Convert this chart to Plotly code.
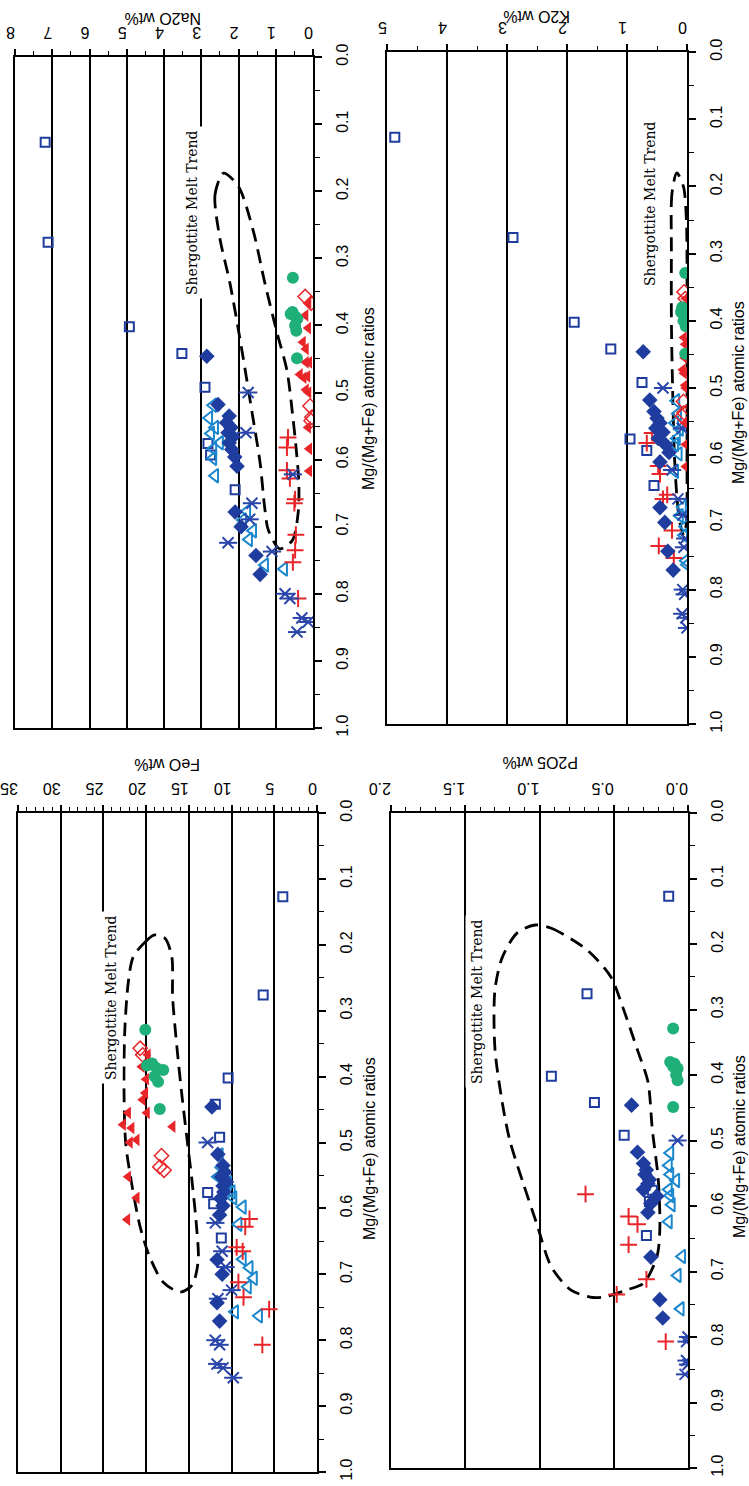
import plotly.graph_objects as go

W, H = 749, 1486

# ---------------- data (Mg/(Mg+Fe) atomic ratio, oxide wt%) ----------------
# open squares (dark blue)
mg_sq = [0.127, 0.276, 0.402, 0.442, 0.492, 0.576, 0.593, 0.645]
feo_sq = [4.0, 6.3, 10.4, 11.9, 11.4, 12.8, 12.1, 11.2]
na2o_sq = [7.19, 7.11, 4.93, 3.52, 2.90, 2.82, 2.75, 2.09]
k2o_sq = [4.87, 2.90, 1.88, 1.27, 0.75, 0.95, 0.67, 0.55]
p2o5_sq = [0.13, 0.68, 0.92, 0.63, 0.43, 0.24, 0.26, 0.28]

# filled diamonds (dark blue)
mg_di = [0.446, 0.518, 0.535, 0.545, 0.552, 0.560, 0.566, 0.575, 0.585, 0.596, 0.610, 0.678, 0.700, 0.743, 0.771]
feo_di = [12.3, 11.6, 11.0, 10.8, 11.2, 10.6, 11.0, 10.9, 11.3, 11.0, 11.4, 11.7, 11.1, 11.7, 11.4]
na2o_di = [2.85, 2.55, 2.25, 2.32, 2.20, 2.28, 2.15, 2.25, 2.18, 2.10, 2.04, 2.09, 1.93, 1.53, 1.42]
k2o_di = [0.73, 0.62, 0.55, 0.50, 0.45, 0.52, 0.40, 0.48, 0.35, 0.30, 0.45, 0.45, 0.37, 0.32, 0.23]
p2o5_di = [0.38, 0.34, 0.30, 0.28, 0.29, 0.26, 0.27, 0.30, 0.21, 0.25, 0.27, 0.25, None, 0.19, 0.17]

# open triangles (light blue)
mg_tri = [0.519, 0.538, 0.552, 0.561, 0.575, 0.584, 0.598, 0.624, 0.677, 0.690, 0.706, 0.719, 0.757, 0.763]
feo_tri = [11.4, 11.2, 11.6, 10.4, 10.0, 9.8, 8.7, 9.2, 8.7, 7.9, 7.4, 8.1, 9.6, 6.8]
na2o_tri = [2.68, 2.79, 2.63, 2.74, 2.50, 2.68, 2.68, 2.63, 1.77, 1.88, 1.61, 1.72, 1.29, 0.78]
k2o_tri = [0.18, 0.15, 0.20, 0.12, 0.17, 0.20, 0.14, 0.20, 0.07, 0.12, 0.03, 0.05, 0.02, 0.00]
p2o5_tri = [0.12, 0.13, 0.12, 0.08, 0.13, 0.12, 0.11, 0.13, 0.04, None, 0.07, None, 0.05, None]

# asterisks (dark blue)
mg_ast = [0.500, 0.560, 0.622, 0.665, 0.689, 0.724, 0.737, 0.800, 0.807, 0.836, 0.842, 0.857]
feo_ast = [12.8, None, 11.9, 11.1, 10.7, 10.0, 11.6, 11.9, 11.4, 11.7, 11.0, 9.8]
na2o_ast = [1.74, 1.80, 0.54, 1.64, 1.70, 2.28, 1.10, 0.75, 0.62, 0.30, 0.13, 0.43]
k2o_ast = [0.40, 0.08, 0.25, 0.15, 0.07, 0.03, 0.05, 0.07, 0.04, 0.08, 0.02, 0.00]
p2o5_ast = [0.07, None, None, None, None, None, None, 0.00, 0.01, 0.01, 0.00, 0.02]

# plus signs (red)
mg_plus = [0.567, 0.582, 0.616, 0.628, 0.659, 0.665, 0.712, 0.735, 0.753, 0.807]
feo_plus = [None, None, 7.9, 8.4, 9.4, 8.7, 9.2, 8.6, 5.6, 6.4]
na2o_plus = [0.67, 0.70, 0.70, 0.62, 0.48, 0.50, 0.46, 0.48, 0.54, 0.40]
k2o_plus = [0.58, 0.67, 0.48, 0.45, 0.33, 0.40, 0.25, 0.47, 0.22, None]
p2o5_plus = [None, 0.69, 0.40, 0.34, 0.40, None, 0.28, 0.48, None, 0.15]

# filled triangles (red)
mg_rtri = [0.367, 0.385, 0.404, 0.425, 0.435, 0.455, 0.455, 0.473, 0.476, 0.478, 0.496, 0.500, 0.552, 0.584, 0.617]
feo_rtri = [19.8, 20.5, 20.0, 20.1, 20.4, 22.1, 19.9, 22.7, 16.9, 21.7, 21.1, 21.9, 22.1, 21.1, 22.2]
na2o_rtri = [0.12, 0.20, 0.13, 0.27, 0.19, 0.19, 0.10, 0.35, 0.15, 0.25, 0.19, 0.12, 0.13, 0.10, 0.10]
k2o_rtri = [0.02, 0.03, 0.02, 0.05, 0.03, 0.04, 0.02, 0.07, 0.02, 0.05, 0.03, 0.02, 0.03, 0.02, 0.02]
p2o5_rtri = [None] * 15

# open diamonds (red)
mg_rdi = [0.357, 0.367, 0.520, 0.537, 0.542]
feo_rdi = [20.7, 20.4, 18.2, 18.4, 17.9]
na2o_rdi = [0.21, 0.05, 0.08, 0.03, 0.05]
k2o_rdi = [0.05, 0.03, 0.06, 0.05, 0.08]
p2o5_rdi = [None] * 5

# filled circles (green)
mg_gr = [0.329, 0.380, 0.383, 0.387, 0.390, 0.400, 0.408, 0.449]
feo_gr = [20.1, 19.3, 19.9, 18.8, 18.0, 19.0, 18.6, 18.4]
na2o_gr = [0.54, 0.55, 0.60, 0.47, 0.42, 0.48, 0.45, 0.43]
k2o_gr = [0.03, 0.08, 0.05, 0.10, 0.03, 0.06, 0.02, 0.03]
p2o5_gr = [0.10, 0.12, 0.09, 0.10, 0.07, 0.08, 0.07, 0.10]

# Shergottite melt trend outlines (closed dashed loops)
loop_na2o_val = [2.40, 2.63, 2.50, 2.23, 1.90, 1.65, 1.42, 1.30, 1.20, 0.89, 0.55, 0.40, 0.38, 0.45, 0.54, 0.70, 0.97, 1.30, 1.60, 2.00, 2.40]
loop_na2o_mg = [0.173, 0.205, 0.270, 0.337, 0.440, 0.525, 0.605, 0.670, 0.705, 0.733, 0.720, 0.680, 0.635, 0.585, 0.537, 0.467, 0.410, 0.335, 0.260, 0.193, 0.173]
loop_k2o_val = [0.17, 0.25, 0.26, 0.26, 0.24, 0.21, 0.17, 0.12, 0.05, 0.01, 0.00, 0.00, 0.01, 0.06, 0.17]
loop_k2o_mg = [0.180, 0.210, 0.300, 0.400, 0.500, 0.600, 0.660, 0.700, 0.720, 0.700, 0.600, 0.400, 0.250, 0.200, 0.180]
loop_feo_val = [19.0, 19.9, 21.5, 22.1, 22.5, 22.6, 22.4, 21.7, 20.7, 19.6, 18.0, 16.0, 14.6, 13.9, 14.1, 14.6, 15.2, 15.8, 16.4, 16.9, 17.0, 17.8, 19.0]
loop_feo_mg = [0.185, 0.193, 0.218, 0.258, 0.330, 0.405, 0.500, 0.562, 0.628, 0.673, 0.712, 0.727, 0.716, 0.678, 0.628, 0.562, 0.496, 0.430, 0.355, 0.280, 0.218, 0.190, 0.185]
loop_p2o5_val = [1.03, 0.92, 0.68, 0.52, 0.44, 0.34, 0.27, 0.24, 0.20, 0.19, 0.21, 0.30, 0.41, 0.57, 0.66, 0.79, 0.92, 1.02, 1.11, 1.20, 1.25, 1.30, 1.30, 1.25, 1.15, 1.03]
loop_p2o5_mg = [0.171, 0.176, 0.209, 0.250, 0.296, 0.362, 0.410, 0.484, 0.560, 0.637, 0.678, 0.718, 0.728, 0.739, 0.739, 0.728, 0.693, 0.626, 0.565, 0.500, 0.443, 0.360, 0.270, 0.220, 0.183, 0.171]

mg_ticks = [0.0, 0.1, 0.2, 0.3, 0.4, 0.5, 0.6, 0.7, 0.8, 0.9, 1.0]

# ---------------- styles ----------------
NAVY = '#1f3d9e'
LBLUE = '#1b87cc'
RED = '#e8262a'
GREEN = '#1faf78'
ASTC = '#2a46aa'

series = [
    dict(mg=mg_sq, vals=dict(na2o=na2o_sq, k2o=k2o_sq, feo=feo_sq, p2o5=p2o5_sq),
         marker=dict(symbol='square-open', size=9, color=NAVY, line=dict(width=2, color=NAVY))),
    dict(mg=mg_tri, vals=dict(na2o=na2o_tri, k2o=k2o_tri, feo=feo_tri, p2o5=p2o5_tri),
         marker=dict(symbol='triangle-left-open', size=12, color=LBLUE, line=dict(width=2, color=LBLUE))),
    dict(mg=mg_plus, vals=dict(na2o=na2o_plus, k2o=k2o_plus, feo=feo_plus, p2o5=p2o5_plus),
         marker=dict(symbol='cross-thin-open', size=12, color=RED, line=dict(width=2, color=RED))),
    dict(mg=mg_ast, vals=dict(na2o=na2o_ast, k2o=k2o_ast, feo=feo_ast, p2o5=p2o5_ast),
         marker=dict(symbol='x-thin-open', size=11, color=ASTC, line=dict(width=2, color=ASTC))),
    dict(mg=mg_ast, vals=dict(na2o=na2o_ast, k2o=k2o_ast, feo=feo_ast, p2o5=p2o5_ast),
         marker=dict(symbol='line-ew-open', size=13, color=ASTC, line=dict(width=2, color=ASTC))),
    dict(mg=mg_di, vals=dict(na2o=na2o_di, k2o=k2o_di, feo=feo_di, p2o5=p2o5_di),
         marker=dict(symbol='diamond', size=12, color=NAVY, line=dict(width=0))),
    dict(mg=mg_rtri, vals=dict(na2o=na2o_rtri, k2o=k2o_rtri, feo=feo_rtri, p2o5=p2o5_rtri),
         marker=dict(symbol='triangle-left', size=11, color=RED, line=dict(width=0))),
    dict(mg=mg_rdi, vals=dict(na2o=na2o_rdi, k2o=k2o_rdi, feo=feo_rdi, p2o5=p2o5_rdi),
         marker=dict(symbol='diamond-open', size=11, color=RED, line=dict(width=1.5, color=RED))),
    dict(mg=mg_gr, vals=dict(na2o=na2o_gr, k2o=k2o_gr, feo=feo_gr, p2o5=p2o5_gr),
         marker=dict(symbol='circle', size=12, color=GREEN, line=dict(width=0))),
]

# panel geometry in pixels: x_left, x_right, y_top, y_bottom
panels = [
    dict(key='na2o', title='Na2O wt%', xmax=8, dtick=1, minor=0.5, fmt='d',
         box=(15, 313, 57, 728), loop=(loop_na2o_val, loop_na2o_mg),
         title_pos=(163, 18), mg_title_pos=(368, 399), trend_pos=(192, 213)),
    dict(key='k2o', title='K2O wt%', xmax=5, dtick=1, minor=0.5, fmt='d',
         box=(387, 687, 52, 724), loop=(loop_k2o_val, loop_k2o_mg),
         title_pos=(537, 17), mg_title_pos=(739, 393), trend_pos=(650, 204)),
    dict(key='feo', title='FeO wt%', xmax=35, dtick=5, minor=1, fmt='d',
         box=(18, 317, 813, 1472), loop=(loop_feo_val, loop_feo_mg),
         title_pos=(167, 765), mg_title_pos=(369, 1149), trend_pos=(111, 998)),
    dict(key='p2o5', title='P2O5 wt%', xmax=2, dtick=0.5, minor=0.1, fmt='.1f',
         box=(391, 688, 813, 1468), loop=(loop_p2o5_val, loop_p2o5_mg),
         title_pos=(540, 763), mg_title_pos=(739, 1147), trend_pos=(477, 1002)),
]

SANS = 'Liberation Sans, Arial, sans-serif'
fig = go.Figure()
annotations = []
n = len(panels)

for i, p in enumerate(panels, start=1):
    xa = 'x' if i == 1 else f'x{i}'
    ya = 'y' if i == 1 else f'y{i}'
    yl = f'y{i + n}'            # overlay axis carrying only the Mg tick labels
    x0, x1, y0, y1 = p['box']
    lv, lm = p['loop']
    fig.add_trace(go.Scatter(x=lv, y=lm, mode='lines', xaxis=xa, yaxis=ya,
                             line=dict(color='black', width=2.8, dash='14px,8px', shape='spline', smoothing=0.8),
                             hoverinfo='skip', showlegend=False))
    for s in series:
        vals = s['vals'][p['key']]
        if all(v is None for v in vals):
            continue
        fig.add_trace(go.Scatter(x=vals, y=s['mg'], mode='markers', xaxis=xa, yaxis=ya,
                                 marker=s['marker'], showlegend=False))

    xkey = 'xaxis' if i == 1 else f'xaxis{i}'
    ykey = 'yaxis' if i == 1 else f'yaxis{i}'
    ylkey = f'yaxis{i + n}'
    ydom = [1 - y1 / H, 1 - y0 / H]
    fig.update_layout(**{
        xkey: dict(domain=[x0 / W, x1 / W], anchor=ya, side='top', range=[p['xmax'], 0],
                   automargin=False,
                   tick0=0, dtick=p['dtick'], tickformat=p['fmt'], ticks='outside', ticklen=6,
                   tickwidth=1.5, tickcolor='black', tickangle=180,
                   tickfont=dict(family=SANS, size=16, color='black'),
                   showgrid=True, gridcolor='black', gridwidth=1.5, zeroline=False,
                   showline=True, linecolor='black', linewidth=2, mirror=True,
                   minor=dict(dtick=p['minor'], tick0=0, ticks='outside', ticklen=4,
                              tickwidth=1.2, tickcolor='black', showgrid=False)),
        ykey: dict(domain=ydom, anchor=xa, side='right', range=[1, 0],
                   automargin=False, tickvals=mg_ticks, showticklabels=False,
                   ticks='outside', ticklen=7, tickwidth=1.5, tickcolor='black',
                   showgrid=False, zeroline=False,
                   showline=True, linecolor='black', linewidth=2, mirror=True,
                   minor=dict(dtick=0.05, tick0=0, ticks='outside', ticklen=5,
                              tickwidth=1.2, tickcolor='black')),
        ylkey: dict(overlaying=ya, anchor=xa, side='right', range=[1, 0], automargin=False,
                    tickvals=mg_ticks, tickformat='.1f', ticks='outside', ticklen=15,
                    tickcolor='rgba(0,0,0,0)', tickangle=-90,
                    tickfont=dict(family=SANS, size=16, color='black'),
                    showgrid=False, zeroline=False, showline=False),
    })
    # invisible trace to activate the label axis
    fig.add_trace(go.Scatter(x=[p['xmax']], y=[mg_ticks[0]], mode='markers', xaxis=xa, yaxis=yl,
                             marker=dict(opacity=0), hoverinfo='skip', showlegend=False))
    tx, ty = p['title_pos']
    annotations.append(dict(text=p['title'], x=tx / W, y=1 - ty / H, xref='paper', yref='paper',
                            showarrow=False, textangle=180, xanchor='center', yanchor='middle',
                            font=dict(family=SANS, size=16, color='black')))
    mx, my = p['mg_title_pos']
    annotations.append(dict(text='Mg/(Mg+Fe) atomic ratios', x=mx / W, y=1 - my / H, xref='paper',
                            yref='paper', showarrow=False, textangle=-90, xanchor='center',
                            yanchor='middle', font=dict(family=SANS, size=16, color='black')))
    sx, sy = p['trend_pos']
    annotations.append(dict(text='Shergottite Melt Trend', x=sx / W, y=1 - sy / H, xref='paper',
                            yref='paper', showarrow=False, textangle=-90, xanchor='center',
                            yanchor='middle', bgcolor='white', borderpad=3,
                            font=dict(family='DejaVu Serif, serif', size=14, color='black')))

fig.update_layout(width=W, height=H, margin=dict(l=0, r=0, t=0, b=0, autoexpand=False),
                  paper_bgcolor='white', plot_bgcolor='white', showlegend=False,
                  annotations=annotations)

fig.write_html('out.html')
